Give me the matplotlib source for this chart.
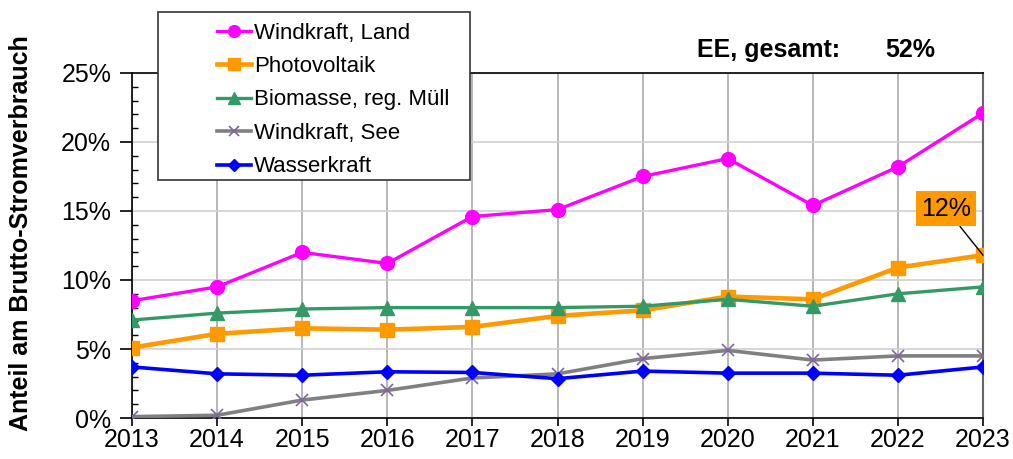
import matplotlib.pyplot as plt
from matplotlib.patches import Rectangle
from matplotlib.ticker import MultipleLocator, FuncFormatter

plt.rcParams['font.family'] = ['Liberation Sans', 'DejaVu Sans']

# Data (share of gross electricity consumption, %)
years = [2013, 2014, 2015, 2016, 2017, 2018, 2019, 2020, 2021, 2022, 2023]
wind_land = [8.5, 9.5, 12.0, 11.2, 14.6, 15.1, 17.5, 18.8, 15.4, 18.2, 22.1]
photovoltaik = [5.1, 6.1, 6.5, 6.4, 6.6, 7.4, 7.8, 8.8, 8.6, 10.9, 11.8]
biomasse = [7.1, 7.6, 7.9, 8.0, 8.0, 8.0, 8.1, 8.6, 8.1, 9.0, 9.5]
wind_see = [0.1, 0.2, 1.3, 2.0, 2.9, 3.2, 4.3, 4.9, 4.2, 4.5, 4.5]
wasserkraft = [3.7, 3.2, 3.1, 3.35, 3.3, 2.85, 3.4, 3.25, 3.25, 3.1, 3.7]
ee_gesamt = 52
pv_label = "12%"

fig = plt.figure(figsize=(10.13, 4.59), dpi=100)
ax = fig.add_axes([0.1303, 0.0893, 0.8401, 0.7517])

l1, = ax.plot(years, wind_land, color='#FF00FF', lw=2.4, marker='o', ms=10, zorder=5)
l2, = ax.plot(years, photovoltaik, color='#FF9900', lw=3.3, marker='s', ms=10, zorder=4)
l3, = ax.plot(years, biomasse, color='#339966', lw=2.4, marker='^', ms=10, zorder=4)
l4, = ax.plot(years, wind_see, color='#808080', lw=2.6, marker='x', ms=9,
              mec='#8064A2', mew=1.2, zorder=3)
l5, = ax.plot(years, wasserkraft, color='#0000FF', lw=2.6, marker='D', ms=7.5, zorder=4)

ax.set_xlim(years[0], years[-1])
ax.set_ylim(0, 25)
ax.set_xticks(years)
ax.yaxis.set_major_locator(MultipleLocator(5))
ax.yaxis.set_minor_locator(MultipleLocator(1))
ax.yaxis.set_major_formatter(FuncFormatter(lambda v, p: f"{v:.0f}%"))
ax.tick_params(axis='both', which='major', labelsize=18, direction='out', width=1.2)
ax.tick_params(axis='x', which='major', length=6, pad=1)
ax.tick_params(axis='y', which='major', length=9, pad=6)
ax.tick_params(axis='y', which='minor', direction='in', length=4, width=1)

ax.grid(axis='x', color='#AAAAAA', lw=1.2)
ax.grid(axis='y', color='#D0D0D0', lw=1.2)
ax.set_axisbelow(True)
ax.spines['right'].set_color('#666666')
ax.spines['right'].set_linewidth(1.5)
for s in ['left', 'bottom', 'top']:
    ax.spines[s].set_linewidth(1.2)

ax.set_ylabel("Anteil am Brutto-Stromverbrauch", fontsize=18, fontweight='bold')
ax.yaxis.set_label_coords(-0.116, 0.536)

# Label for the last PV value
ax.annotate(pv_label, xy=(years[-1], photovoltaik[-1]), xytext=(2022.565, 15.15),
            fontsize=18, ha='center', va='center',
            bbox=dict(boxstyle='square,pad=0.22', fc='#FF9900', ec='none'),
            arrowprops=dict(arrowstyle='-', color='black', lw=1, shrinkA=0, shrinkB=0),
            zorder=6)

fig.text(697 / 1013, 1 - 50 / 459, "EE, gesamt:", fontsize=18, fontweight='bold', va='center')
fig.text(885 / 1013, 1 - 50 / 459, f"{ee_gesamt}%", fontsize=18, fontweight='bold', va='center')

# Legend box
fig.patches.append(Rectangle((158 / 1013, 1 - 180 / 459), 312 / 1013, 168 / 459,
                             transform=fig.transFigure, fc='white', ec='#333333',
                             lw=1.2, zorder=10))
leg = fig.legend([l1, l2, l3, l4, l5],
                 ["Windkraft, Land", "Photovoltaik", "Biomasse, reg. Müll",
                  "Windkraft, See", "Wasserkraft"],
                 loc='upper left', bbox_to_anchor=(201 / 1013, 1 - 7 / 459),
                 frameon=False, fontsize=16, handlelength=1.55, handletextpad=0.12,
                 labelspacing=0.56, borderpad=0.2, markerscale=0.85)
leg.set_zorder(11)

fig.savefig("out.png", dpi=100)
